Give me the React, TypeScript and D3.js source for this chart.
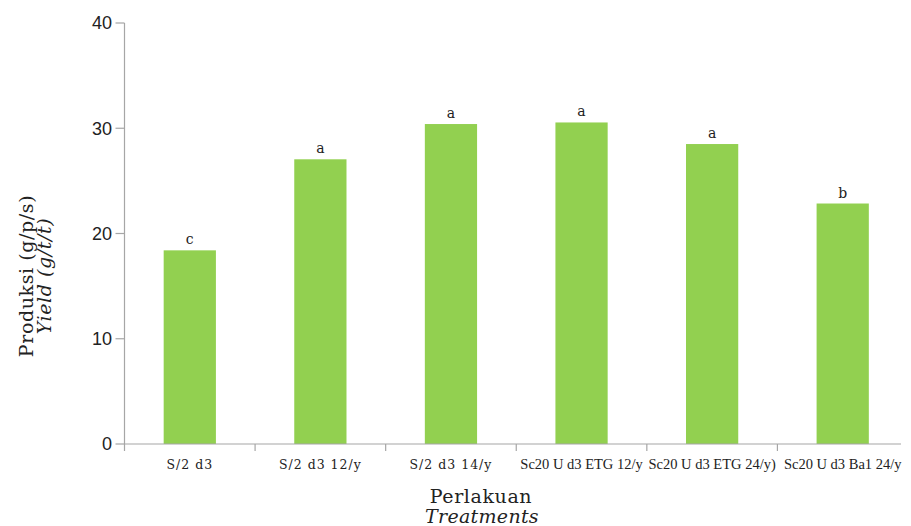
import React from "react";
import * as d3 from "d3";

// Treatments and their yield, with the significance letter over each bar
const categories = [
  "S/2 d3",
  "S/2 d3 12/y",
  "S/2 d3 14/y",
  "Sc20 U d3 ETG 12/y",
  "Sc20 U d3 ETG 24/y)",
  "Sc20 U d3 Ba1 24/y",
];
const yieldValues = [18.4, 27.05, 30.4, 30.55, 28.5, 22.85];
const groupLetters = ["c", "a", "a", "a", "a", "b"];
const yTicks = [0, 10, 20, 30, 40];

const W = 911;
const H = 526;
const plotLeft = 124.5;
const plotRight = 908;
const plotTop = 23;
const plotBottom = 444;

const BAR = "#92D050";
const AXIS = "#A6A6A6";
const SERIF = "'DejaVu Serif', serif";
const TIMES = "'Liberation Serif', 'Times New Roman', serif";

export default function App() {
  const x = d3
    .scaleBand<string>()
    .domain(categories)
    .range([plotLeft, plotRight])
    .paddingInner(0.6)
    .paddingOuter(0.3);
  const y = d3.scaleLinear().domain([0, 40]).range([plotBottom, plotTop]);
  const step = x.step();
  const bw = x.bandwidth();
  const boundaries = categories.map((c) => (x(c) as number) - step * 0.3);

  return (
    <svg
      width={W}
      height={H}
      style={{ position: "absolute", left: 0, top: 0, background: "#fff" }}
    >
      {/* bars */}
      {categories.map((c, i) => (
        <rect
          key={c}
          x={x(c)}
          y={y(yieldValues[i])}
          width={bw}
          height={y(0) - y(yieldValues[i])}
          fill={BAR}
        />
      ))}
      {/* significance letters */}
      {categories.map((c, i) => (
        <text
          key={"l" + c}
          x={(x(c) as number) + bw / 2}
          y={y(yieldValues[i]) - 6}
          textAnchor="middle"
          fontFamily={SERIF}
          fontSize={14}
          fill="#222"
        >
          {groupLetters[i]}
        </text>
      ))}

      {/* y axis */}
      <line x1={plotLeft} x2={plotLeft} y1={plotTop} y2={plotBottom} stroke={AXIS} strokeWidth={1.2} />
      {yTicks.map((t) => (
        <g key={t}>
          <line x1={plotLeft - 9} x2={plotLeft} y1={y(t)} y2={y(t)} stroke={AXIS} strokeWidth={1.2} />
          <text
            x={112}
            y={y(t)}
            dy="0.36em"
            textAnchor="end"
            fontFamily="'Liberation Sans', Arial, sans-serif"
            fontSize={18}
            fill="#222"
          >
            {t}
          </text>
        </g>
      ))}

      {/* x axis */}
      <line x1={plotLeft} x2={901} y1={plotBottom} y2={plotBottom} stroke={AXIS} strokeWidth={1.2} />
      {boundaries.map((b, i) => (
        <line key={"t" + i} x1={b} x2={b} y1={plotBottom} y2={plotBottom + 7} stroke={AXIS} strokeWidth={1.2} />
      ))}
      {categories.map((c, i) => (
        <text
          key={"c" + c}
          x={(x(c) as number) + bw / 2}
          y={469}
          textAnchor="middle"
          fontFamily={i < 3 ? SERIF : TIMES}
          fontSize={i < 3 ? 12.5 : 14.5}
          letterSpacing={i < 3 ? 1 : 0}
          fill="#222"
        >
          {c}
        </text>
      ))}

      {/* axis titles */}
      <text x={481} y={503} textAnchor="middle" fontFamily={SERIF} fontSize={19} letterSpacing={0.6} fill="#222">
        Perlakuan
      </text>
      <text x={482} y={523} textAnchor="middle" fontFamily={SERIF} fontStyle="italic" fontSize={19} letterSpacing={0.3} fill="#222">
        Treatments
      </text>
      <g transform="translate(33,276) rotate(-90)">
        <text x={0} y={0} textAnchor="middle" fontFamily={SERIF} fontSize={19} letterSpacing={0.6} fill="#222">
          Produksi (g/p/s)
        </text>
        <text x={0} y={18} textAnchor="middle" fontFamily={SERIF} fontStyle="italic" fontSize={19} letterSpacing={0.6} fill="#222">
          Yield (g/t/t)
        </text>
      </g>
    </svg>
  );
}
